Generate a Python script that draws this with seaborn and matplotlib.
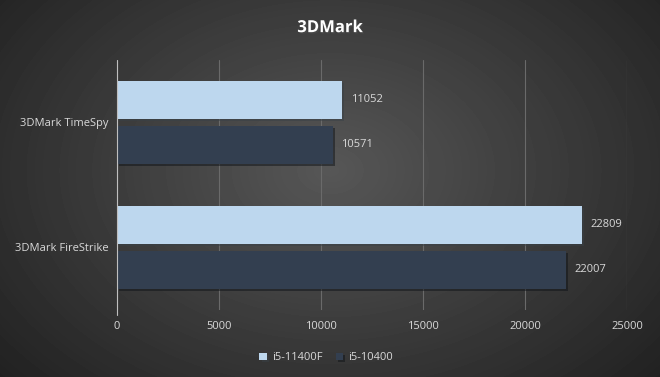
import matplotlib
matplotlib.use("Agg")
import matplotlib.pyplot as plt
import matplotlib.patheffects as pe
import seaborn as sns
import numpy as np
import pandas as pd

# data
tests = ["3DMark TimeSpy", "3DMark FireStrike"]
cpu_a = "i5-11400F"
cpu_b = "i5-10400"
scores_a = [11052, 22809]
scores_b = [10571, 22007]

df = pd.DataFrame({
    "test": tests * 2,
    "cpu": [cpu_a] * len(tests) + [cpu_b] * len(tests),
    "score": scores_a + scores_b,
})

sns.set_style("dark")
plt.rcParams["font.family"] = ["Open Sans", "DejaVu Sans"]
txt = "#d9d9d9"

fig = plt.figure(figsize=(6.6, 3.77), dpi=100)

# radial gradient background
bg = fig.add_axes([0, 0, 1, 1], zorder=-10)
yy, xx = np.mgrid[0:377, 0:660]
r = np.sqrt(((xx - 330) / 420.0) ** 2 + ((yy - 170) / 300.0) ** 2)
shade = np.clip(0.34 - 0.2 * r, 0.12, 0.34)
bg.imshow(shade, cmap="gray", vmin=0, vmax=1, aspect="auto", extent=[0, 1, 0, 1])
bg.axis("off")

ax = fig.add_axes([0.177, 0.178, 0.773, 0.663])
ax.set_facecolor("none")

sns.barplot(data=df, y="test", x="score", hue="cpu", orient="h",
            palette=["#bdd7ee", "#333f50"], saturation=1, width=0.72, gap=0.17,
            linewidth=0, ax=ax, legend=True, zorder=3)

for bar in ax.patches:
    bar.set_path_effects([pe.SimplePatchShadow(offset=(1.5, -1.5), alpha=0.5), pe.Normal()])

for cont in ax.containers:
    ax.bar_label(cont, labels=[str(int(v)) for v in cont.datavalues],
                 padding=6, color=txt, fontsize=8)

ax.set_xlim(0, 25000)
ax.set_ylim(1.5, -0.5)
ax.set_xticks(range(0, 25001, 5000))
ax.grid(axis="x", color="#6a6a6a", linewidth=0.8, zorder=0)
ax.grid(axis="y", visible=False)
for s in ax.spines.values():
    s.set_visible(False)
ax.axvline(0, ymin=-0.02, ymax=1, color="#bfbfbf", linewidth=0.8, zorder=4, clip_on=False)
ax.tick_params(axis="x", colors=txt, labelsize=8, length=0, pad=8)
ax.tick_params(axis="y", colors=txt, labelsize=8, length=0, pad=6)
ax.set_xlabel("")
ax.set_ylabel("")

leg = ax.legend(loc="upper center", bbox_to_anchor=(0.41, -0.13), ncol=2,
                frameon=False, fontsize=8, handlelength=0.7, handleheight=0.7,
                columnspacing=1.2, handletextpad=0.4)
for h in leg.legend_handles:
    h.set_linewidth(0)
for t in leg.get_texts():
    t.set_color(txt)

fig.text(0.5, 0.928, "3DMark", ha="center", va="center", color="white",
         fontsize=12, fontweight="bold",
         path_effects=[pe.withSimplePatchShadow(offset=(1, -1), alpha=0.6)])

fig.savefig("out.png", dpi=100)
